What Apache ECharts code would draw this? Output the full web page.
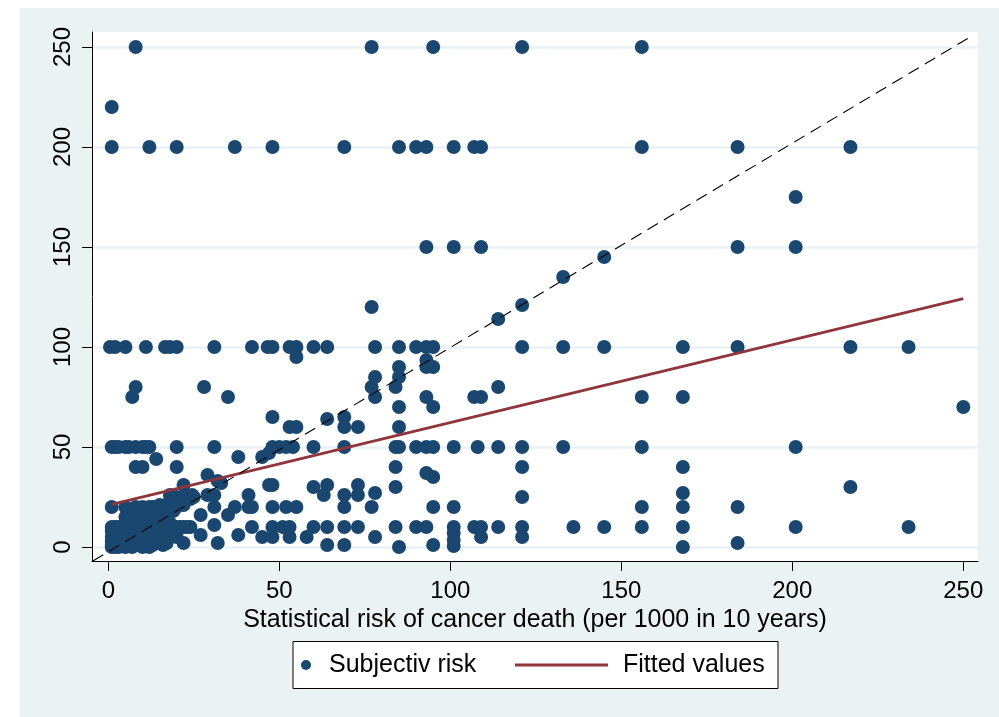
<!DOCTYPE html>
<html>
<head>
<meta charset="utf-8">
<script src="https://cdn.jsdelivr.net/npm/echarts@6/dist/echarts.min.js"></script>
<style>
  html, body { margin: 0; padding: 0; background: #ffffff; }
  #chart { width: 999px; height: 717px; }
</style>
</head>
<body>
<div id="chart"></div>
<script>
// Statistical risk of cancer death (per 1000 in 10 years) for each respondent
const statisticalRisk = [
  // top rows
  8, 77, 95, 121, 156,
  1,
  1, 12, 20, 37, 48, 69, 85, 90, 93, 101, 107, 109, 156, 184, 217,
  201,
  93, 101, 109, 184, 201,
  145, 133, 121, 77, 114,
  // around 100
  0.5, 2, 5, 11, 16.6, 18, 20, 31, 42, 46.6, 48, 53, 55, 60, 64, 78, 85, 90, 93, 95, 121, 133, 145, 168, 184, 217, 234,
  55, 93,
  85, 93, 95,
  78, 85,
  8, 28, 77, 84, 114,
  7, 35, 78, 93, 107, 109, 156, 168,
  85, 95, 250,
  48, 69, 64,
  53, 55, 69, 73, 85,
  // around 50
  1, 2, 3, 5, 6, 8, 10, 11, 12, 20, 31, 48, 50, 52, 54, 60, 69, 84, 85, 90, 93, 95, 101, 108, 114, 121, 133, 156, 201,
  45, 47, 14, 38,
  8, 10, 20, 84, 121, 168,
  93, 95, 29,
  32, 33,
  22, 47, 48, 64, 73, 60, 84, 217,
  18, 24.5, 29, 31, 41, 63, 69, 73, 121,
  78, 168,
  // around 20
  1, 5, 12, 15, 17, 18, 20, 22, 24, 31, 37, 41, 42, 48, 52, 55, 69, 77, 95, 101, 156, 168, 184,
  27, 35,
  // around 10
  31, 42, 48, 51, 53, 60, 64, 69, 73, 84, 90, 93, 101, 107, 109, 114, 121, 136, 145, 156, 168, 201, 234,
  27, 38, 45, 48, 53, 58, 78, 101, 109, 121,
  17, 22, 32, 64, 69, 85, 95, 101, 101, 168, 184,
  // low-risk cluster
  1, 2, 3, 5, 7, 10, 12,
  1, 4, 8, 13, 16,
  2, 6, 9, 11, 14, 17,
  1, 3, 5, 8, 12,
  1, 2, 4, 6, 8, 10, 12, 14, 16, 18, 20,
  3, 7, 11, 15,
  1, 5, 9, 13, 19,
  1, 2, 3, 4, 5, 6, 7, 8, 9, 10, 11, 12, 13, 14, 15, 16, 17, 18, 19, 20, 21, 22, 23, 24,
  6, 10, 14, 18,
  8, 12, 16,
  5, 7, 9, 10, 11, 12, 13, 15, 17,
  10, 14,
  12, 19,
  8, 10, 13, 14,
  20, 22, 25
];

// Subjective risk stated by the same respondents
const subjectiveRisk = [
  250, 250, 250, 250, 250,
  220,
  200, 200, 200, 200, 200, 200, 200, 200, 200, 200, 200, 200, 200, 200, 200,
  175,
  150, 150, 150, 150, 150,
  145, 135, 121, 120, 114,
  100, 100, 100, 100, 100, 100, 100, 100, 100, 100, 100, 100, 100, 100, 100, 100, 100, 100, 100, 100, 100, 100, 100, 100, 100, 100, 100,
  95, 93.5,
  90, 90, 90,
  85, 85,
  80, 80, 80, 80, 80,
  75, 75, 75, 75, 75, 75, 75, 75,
  70, 70, 70,
  65, 65, 64,
  60, 60, 60, 60, 60,
  50, 50, 50, 50, 50, 50, 50, 50, 50, 50, 50, 50, 50, 50, 50, 50, 50, 50, 50, 50, 50, 50, 50, 50, 50, 50, 50, 50, 50,
  45, 47, 44, 45,
  40, 40, 40, 40, 40, 40,
  37, 35, 36,
  33, 32,
  31, 31, 31, 31, 31, 30, 30, 30,
  26, 26, 26, 26, 26, 26, 26, 26, 25,
  27, 27,
  20, 20, 20, 21, 21, 23, 20, 21, 24, 20, 20, 20, 20, 20, 20, 20, 20, 20, 20, 20, 20, 20, 20,
  16, 16,
  11, 10, 10, 10, 10, 10, 10, 10, 10, 10, 10, 10, 10, 10, 10, 10, 10, 10, 10, 10, 10, 10, 10,
  6, 6, 5, 5, 5, 5, 5, 7, 5, 5,
  2, 2, 2, 1, 1, 0, 1, 3.5, 0.5, 0, 2,
  0, 0, 0, 0, 0, 0, 0,
  1, 1, 1, 1, 1,
  2, 2, 2, 2, 2, 2,
  3, 3, 3, 3, 3,
  5, 5, 5, 5, 5, 5, 5, 5, 5, 5, 5,
  7, 7, 7, 7,
  8, 8, 8, 8, 8,
  10, 10, 10, 10, 10, 10, 10, 10, 10, 10, 10, 10, 10, 10, 10, 10, 10, 10, 10, 10, 10, 10, 10, 10,
  12, 12, 12, 12,
  13, 13, 13,
  15, 15, 15, 15, 15, 15, 15, 15, 15,
  17, 17,
  18, 18,
  20, 20, 20, 20,
  25, 25, 25
];

// Fitted regression line (end points)
const fittedX = [1, 250];
const fittedY = [21.3, 124.2];

// Dashed line of equality across the plot
const equalityX = [-4.5, 252];
const equalityY = [-7, 255];

// Axis ticks
const xTicks = [0, 50, 100, 150, 200, 250];
const yTicks = [0, 50, 100, 150, 200, 250];

const scatterData = statisticalRisk.map((x, i) => [x, subjectiveRisk[i]]);
const fittedData = fittedX.map((x, i) => [x, fittedY[i]]);
const equalityData = equalityX.map((x, i) => [x, equalityY[i]]);

const FONT = '"Liberation Sans", Arial, Helvetica, sans-serif';
const NAVY = '#1a476f';
const MAROON = '#90353b';
const PALE = '#eaf2f3';

const chart = echarts.init(document.getElementById('chart'), null, { renderer: 'canvas' });

chart.setOption({
  animation: false,
  backgroundColor: '#ffffff',
  textStyle: { fontFamily: FONT },
  graphic: [
    {
      type: 'rect', z: -1, silent: true,
      shape: { x: 20, y: 8, width: 979, height: 709 },
      style: { fill: PALE }
    },
    {
      type: 'rect', z: 1, silent: true,
      shape: { x: 293, y: 641.5, width: 485, height: 47 },
      style: { fill: '#ffffff', stroke: '#000000', lineWidth: 1 }
    }
  ],
  grid: {
    left: 92, top: 32, width: 886, height: 529,
    show: true, backgroundColor: '#ffffff', borderWidth: 0
  },
  xAxis: {
    type: 'value',
    min: -4.77, max: 254.3,
    name: 'Statistical risk of cancer death (per 1000 in 10 years)',
    nameLocation: 'middle',
    nameGap: 34,
    nameTextStyle: { fontSize: 25, color: '#000', fontFamily: FONT, verticalAlign: 'top' },
    axisLine: { show: true, onZero: false, lineStyle: { color: '#000', width: 1 } },
    axisTick: { show: true, length: 10, customValues: xTicks, lineStyle: { color: '#000', width: 1 } },
    axisLabel: { customValues: xTicks, fontSize: 24, color: '#000', margin: 18, fontFamily: FONT },
    splitLine: { show: false }
  },
  yAxis: {
    type: 'value',
    min: -7, max: 257.5,
    axisLine: { show: true, onZero: false, lineStyle: { color: '#000', width: 1 } },
    axisTick: { show: true, length: 10, customValues: yTicks, lineStyle: { color: '#000', width: 1 } },
    axisLabel: { customValues: yTicks, fontSize: 24, color: '#000', margin: 17, rotate: 90, fontFamily: FONT },
    splitLine: { show: true, lineStyle: { color: PALE, width: 2.5 } }
  },
  legend: [
    {
      data: [{ name: 'Subjectiv risk', icon: 'circle' }],
      left: 301, top: 652,
      padding: 0,
      itemWidth: 10, itemHeight: 10,
      selectedMode: false,
      z: 5,
      textStyle: { fontSize: 25, color: '#000', fontFamily: FONT, lineHeight: 26, padding: [0, 0, 0, 13] }
    },
    {
      data: [{ name: 'Fitted values', icon: 'rect' }],
      left: 515, top: 652,
      padding: 0,
      itemWidth: 93, itemHeight: 3,
      selectedMode: false,
      z: 5,
      textStyle: { fontSize: 25, color: '#000', fontFamily: FONT, lineHeight: 26, padding: [0, 0, 0, 10] }
    }
  ],
  series: [
    {
      name: 'Subjectiv risk',
      type: 'scatter',
      data: scatterData,
      symbol: 'circle',
      symbolSize: 14,
      itemStyle: { color: NAVY, opacity: 1 },
      z: 2
    },
    {
      name: 'Fitted values',
      type: 'line',
      data: fittedData,
      symbol: 'none',
      itemStyle: { color: MAROON },
      lineStyle: { color: MAROON, width: 2.7 },
      z: 3
    },
    {
      name: 'Equality',
      type: 'line',
      data: equalityData,
      symbol: 'none',
      clip: true,
      itemStyle: { color: '#000' },
      lineStyle: { color: '#000', width: 1.1, type: [12, 7] },
      z: 3
    }
  ]
});
</script>
</body>
</html>
